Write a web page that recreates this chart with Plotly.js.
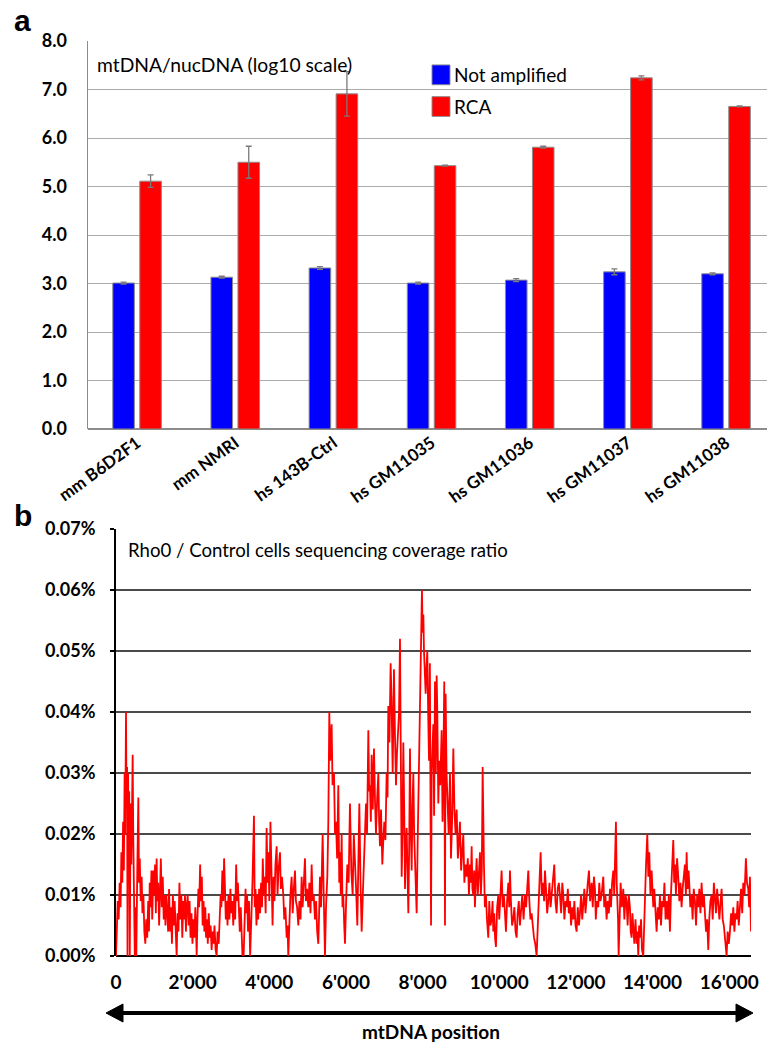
<!DOCTYPE html>
<html>
<head>
<meta charset="utf-8">
<script src="https://cdn.plot.ly/plotly-3.0.1.min.js"></script>
<style>
  html, body { margin: 0; padding: 0; background: #fff; }
  #chart { width: 767px; height: 1042px; }
</style>
</head>
<body>
<div id="chart"></div>
<script>
// Panel a: mtDNA copy number relative to nuclear DNA (log10), per cell line
const cellLines = ['mm B6D2F1', 'mm NMRI', 'hs 143B-Ctrl', 'hs GM11035', 'hs GM11036', 'hs GM11037', 'hs GM11038'];
const notAmplified = [3.01, 3.13, 3.32, 3.01, 3.07, 3.24, 3.20];
const notAmplifiedErr = [0.02, 0.02, 0.03, 0.02, 0.03, 0.06, 0.02];
const rca = [5.11, 5.50, 6.91, 5.43, 5.81, 7.24, 6.65];
const rcaErr = [0.13, 0.33, 0.46, 0.01, 0.02, 0.04, 0.01];

// Panel b: Rho0 / control sequencing coverage ratio (%) along the mtDNA, [position, ratio]
const coverageRatio = [
  [0,0.000],[20,0.004],[45,0.009],[70,0.006],[95,0.012],[120,0.008],[140,0.017],[165,0.012],[185,0.022],[205,0.014],
  [225,0.030],[240,0.020],[261,0.040],[275,0.025],[290,0.031],[300,0.000],[315,0.030],[330,0.018],[345,0.027],[360,0.000],
  [380,0.025],[400,0.015],[420,0.028],[435,0.033],[450,0.020],[470,0.012],[490,0.000],[510,0.008],[530,0.000],[555,0.014],
  [583,0.026],[600,0.012],[620,0.016],[645,0.009],[670,0.013],[690,0.007],[715,0.010],[740,0.004],[765,0.002],[790,0.006],
  [815,0.003],[840,0.009],[860,0.004],[880,0.012],[900,0.008],[925,0.014],[945,0.006],[974,0.014],[995,0.010],[1020,0.015],
  [1040,0.007],[1060,0.016],[1080,0.009],[1100,0.012],[1125,0.005],[1150,0.011],[1170,0.016],[1195,0.008],[1220,0.013],[1245,0.006],
  [1270,0.010],[1290,0.005],[1315,0.010],[1340,0.007],[1360,0.004],[1385,0.011],[1410,0.004],[1435,0.008],[1460,0.002],[1485,0.010],
  [1510,0.005],[1530,0.009],[1560,0.003],[1583,0.000],[1605,0.007],[1630,0.004],[1655,0.012],[1680,0.006],[1705,0.010],[1730,0.003],
  [1755,0.009],[1780,0.006],[1800,0.010],[1825,0.004],[1845,0.008],[1870,0.010],[1895,0.005],[1920,0.009],[1945,0.003],[1970,0.007],
  [1995,0.002],[2020,0.006],[2045,0.003],[2070,0.008],[2090,0.004],[2105,0.000],[2125,0.006],[2150,0.011],[2170,0.008],[2195,0.015],
  [2215,0.009],[2240,0.013],[2260,0.005],[2285,0.009],[2305,0.004],[2330,0.008],[2350,0.003],[2375,0.006],[2395,0.002],[2420,0.007],
  [2445,0.003],[2470,0.005],[2495,0.001],[2520,0.004],[2545,0.002],[2570,0.005],[2600,0.001],[2626,0.000],[2650,0.004],[2680,0.002],
  [2705,0.006],[2730,0.010],[2750,0.008],[2775,0.014],[2800,0.009],[2820,0.016],[2840,0.012],[2865,0.006],[2890,0.009],[2910,0.005],
  [2935,0.010],[2960,0.006],[2985,0.011],[3010,0.007],[3035,0.009],[3060,0.005],[3085,0.010],[3110,0.006],[3135,0.015],[3160,0.009],
  [3180,0.012],[3205,0.006],[3230,0.004],[3255,0.008],[3280,0.002],[3300,0.000],[3330,0.000],[3355,0.005],[3380,0.011],[3400,0.007],
  [3420,0.010],[3445,0.004],[3470,0.009],[3500,0.000],[3535,0.006],[3560,0.012],[3600,0.023],[3620,0.008],[3640,0.011],[3665,0.005],
  [3690,0.010],[3710,0.006],[3735,0.011],[3760,0.007],[3785,0.012],[3810,0.008],[3830,0.016],[3855,0.010],[3880,0.013],[3905,0.007],
  [3930,0.021],[3955,0.012],[3980,0.017],[4000,0.009],[4030,0.022],[4060,0.008],[4085,0.005],[4110,0.013],[4135,0.009],[4160,0.015],
  [4192,0.018],[4215,0.010],[4240,0.014],[4279,0.017],[4300,0.011],[4330,0.013],[4366,0.010],[4390,0.006],[4420,0.008],[4453,0.003],
  [4475,0.005],[4496,0.000],[4520,0.006],[4550,0.010],[4583,0.013],[4610,0.007],[4640,0.011],[4670,0.014],[4695,0.009],[4725,0.008],
  [4757,0.005],[4785,0.009],[4815,0.006],[4844,0.013],[4870,0.008],[4900,0.012],[4931,0.016],[4955,0.009],[4985,0.011],[5018,0.008],
  [5045,0.012],[5075,0.007],[5105,0.015],[5130,0.009],[5160,0.010],[5192,0.006],[5220,0.009],[5250,0.004],[5279,0.002],[5300,0.007],
  [5322,0.013],[5350,0.008],[5392,0.020],[5420,0.010],[5453,0.000],[5480,0.008],[5514,0.013],[5540,0.022],[5566,0.040],[5590,0.032],
  [5627,0.038],[5650,0.028],[5688,0.030],[5715,0.020],[5740,0.022],[5770,0.016],[5801,0.028],[5825,0.012],[5844,0.017],[5865,0.010],
  [5888,0.020],[5910,0.008],[5931,0.010],[5955,0.005],[5975,0.002],[6005,0.009],[6036,0.015],[6070,0.012],[6105,0.025],[6140,0.014],
  [6175,0.010],[6205,0.020],[6236,0.016],[6265,0.011],[6297,0.005],[6320,0.015],[6349,0.025],[6380,0.012],[6410,0.004],[6440,0.010],
  [6471,0.015],[6495,0.019],[6523,0.025],[6550,0.020],[6584,0.037],[6605,0.027],[6627,0.028],[6650,0.022],[6671,0.033],[6700,0.024],
  [6732,0.034],[6760,0.025],[6784,0.020],[6815,0.026],[6845,0.030],[6865,0.022],[6888,0.018],[6915,0.024],[6949,0.015],[6975,0.019],
  [7001,0.022],[7030,0.019],[7062,0.030],[7085,0.026],[7105,0.041],[7135,0.035],[7166,0.048],[7190,0.042],[7219,0.030],[7235,0.038],
  [7253,0.047],[7280,0.036],[7306,0.028],[7330,0.033],[7358,0.036],[7385,0.040],[7410,0.052],[7430,0.030],[7454,0.013],[7475,0.020],
  [7497,0.035],[7520,0.024],[7541,0.011],[7560,0.018],[7584,0.021],[7605,0.014],[7628,0.007],[7650,0.018],[7671,0.034],[7690,0.022],
  [7715,0.014],[7735,0.024],[7758,0.030],[7780,0.020],[7802,0.016],[7825,0.012],[7845,0.007],[7870,0.018],[7889,0.025],[7910,0.033],
  [7932,0.040],[7960,0.045],[7983,0.060],[8000,0.053],[8020,0.056],[8036,0.050],[8060,0.047],[8080,0.043],[8100,0.047],[8123,0.050],
  [8145,0.040],[8167,0.032],[8190,0.048],[8209,0.028],[8220,0.005],[8236,0.030],[8262,0.036],[8280,0.038],[8300,0.023],[8323,0.045],
  [8345,0.030],[8367,0.046],[8384,0.040],[8410,0.025],[8436,0.032],[8460,0.028],[8497,0.037],[8520,0.022],[8540,0.030],[8565,0.045],
  [8584,0.005],[8601,0.043],[8625,0.030],[8645,0.025],[8680,0.020],[8715,0.030],[8740,0.016],[8770,0.022],[8802,0.034],[8830,0.024],
  [8860,0.020],[8889,0.024],[8920,0.016],[8950,0.019],[8975,0.022],[9005,0.014],[9035,0.017],[9062,0.020],[9090,0.012],[9120,0.015],
  [9149,0.013],[9180,0.016],[9210,0.010],[9236,0.015],[9260,0.012],[9280,0.018],[9300,0.011],[9323,0.010],[9345,0.014],[9366,0.008],
  [9390,0.013],[9410,0.016],[9440,0.010],[9470,0.013],[9497,0.017],[9520,0.010],[9545,0.014],[9567,0.031],[9580,0.020],[9601,0.015],
  [9625,0.008],[9653,0.010],[9680,0.006],[9714,0.003],[9740,0.009],[9770,0.005],[9801,0.006],[9825,0.009],[9845,0.004],[9870,0.007],
  [9890,0.003],[9914,0.0015],[9945,0.008],[9975,0.010],[10000,0.006],[10030,0.011],[10062,0.014],[10090,0.008],[10120,0.010],[10149,0.007],
  [10175,0.004],[10205,0.009],[10236,0.012],[10260,0.008],[10279,0.014],[10305,0.009],[10335,0.005],[10366,0.006],[10395,0.008],[10425,0.004],
  [10453,0.003],[10480,0.007],[10510,0.009],[10540,0.005],[10570,0.007],[10600,0.010],[10635,0.006],[10671,0.010],[10700,0.008],[10730,0.012],
  [10758,0.014],[10785,0.009],[10815,0.006],[10845,0.007],[10875,0.005],[10906,0.003],[10940,0.002],[10975,0.000],[11000,0.004],[11019,0.008],
  [11050,0.012],[11080,0.017],[11110,0.010],[11149,0.012],[11170,0.009],[11193,0.014],[11220,0.011],[11250,0.007],[11280,0.009],[11310,0.012],
  [11340,0.008],[11367,0.010],[11400,0.013],[11436,0.015],[11465,0.009],[11497,0.007],[11525,0.011],[11555,0.012],[11584,0.010],[11615,0.007],
  [11645,0.012],[11671,0.010],[11700,0.006],[11730,0.009],[11758,0.008],[11790,0.011],[11815,0.007],[11845,0.009],[11875,0.005],[11905,0.008],
  [11932,0.006],[11960,0.009],[11990,0.005],[12019,0.004],[12050,0.008],[12080,0.005],[12106,0.007],[12135,0.010],[12165,0.006],[12193,0.008],
  [12220,0.011],[12250,0.007],[12280,0.010],[12310,0.012],[12341,0.014],[12370,0.009],[12410,0.012],[12440,0.008],[12470,0.013],[12497,0.011],
  [12520,0.006],[12545,0.009],[12584,0.008],[12610,0.012],[12640,0.009],[12670,0.010],[12715,0.013],[12740,0.008],[12770,0.010],[12802,0.006],
  [12830,0.009],[12860,0.007],[12889,0.011],[12915,0.008],[12945,0.012],[12976,0.014],[13000,0.010],[13020,0.016],[13045,0.022],[13065,0.012],
  [13080,0.010],[13100,0.006],[13115,0.000],[13140,0.008],[13167,0.012],[13200,0.008],[13236,0.011],[13265,0.006],[13295,0.010],[13323,0.009],
  [13350,0.005],[13380,0.010],[13410,0.008],[13430,0.004],[13454,0.003],[13475,0.007],[13497,0.005],[13525,0.002],[13555,0.006],[13584,0.002],
  [13605,0.004],[13628,0.000],[13650,0.005],[13671,0.003],[13700,0.006],[13725,0.001],[13758,0.000],[13780,0.006],[13802,0.012],[13830,0.015],
  [13863,0.020],[13890,0.013],[13915,0.017],[13945,0.010],[13976,0.014],[14000,0.009],[14019,0.008],[14045,0.011],[14075,0.006],[14106,0.004],
  [14135,0.008],[14165,0.006],[14193,0.010],[14220,0.005],[14250,0.009],[14280,0.008],[14310,0.012],[14340,0.006],[14367,0.009],[14395,0.006],
  [14425,0.010],[14454,0.004],[14480,0.010],[14510,0.014],[14541,0.019],[14565,0.012],[14590,0.015],[14610,0.010],[14640,0.016],[14671,0.013],
  [14700,0.009],[14730,0.012],[14758,0.008],[14785,0.011],[14815,0.013],[14845,0.015],[14870,0.010],[14889,0.017],[14915,0.011],[14940,0.014],
  [14958,0.012],[14985,0.008],[15019,0.010],[15045,0.006],[15075,0.011],[15106,0.009],[15135,0.005],[15165,0.010],[15193,0.008],[15220,0.011],
  [15250,0.007],[15280,0.012],[15310,0.008],[15340,0.010],[15367,0.007],[15395,0.004],[15425,0.006],[15454,0.001],[15480,0.006],[15510,0.009],
  [15541,0.010],[15570,0.006],[15600,0.012],[15628,0.010],[15655,0.007],[15685,0.011],[15715,0.008],[15745,0.006],[15775,0.009],[15802,0.011],
  [15830,0.006],[15860,0.005],[15889,0.003],[15910,0.002],[15932,0.000],[15960,0.004],[15990,0.002],[16019,0.004],[16050,0.007],[16080,0.005],
  [16106,0.008],[16135,0.004],[16165,0.007],[16193,0.006],[16220,0.009],[16250,0.005],[16280,0.008],[16310,0.011],[16340,0.007],[16367,0.012],
  [16400,0.010],[16436,0.016],[16465,0.012],[16497,0.011],[16520,0.008],[16541,0.013],[16569,0.004]
];
const positionTicks = [0, 2000, 4000, 6000, 8000, 10000, 12000, 14000, 16000];
const mtGenomeLength = 16569;

const W = 767, H = 1042;
const px = v => v / W;          // pixel -> paper x
const py = v => 1 - v / H;      // pixel -> paper y

const FONT = 'Lato, "Open Sans", sans-serif';
const barLine = { color: '#8c8c8c', width: 1 };
const errStyle = { type: 'data', color: '#7a7a7a', thickness: 1.3, width: 3 };

const traces = [
  {
    type: 'bar', name: 'Not amplified', legendgroup: 'na',
    x: cellLines, y: notAmplified,
    error_y: Object.assign({ array: notAmplifiedErr }, errStyle),
    marker: { color: '#0000ff', line: barLine },
    xaxis: 'x', yaxis: 'y'
  },
  {
    type: 'bar', name: 'RCA', legendgroup: 'rca',
    x: cellLines, y: rca,
    error_y: Object.assign({ array: rcaErr }, errStyle),
    marker: { color: '#ff0000', line: barLine },
    xaxis: 'x', yaxis: 'y'
  },
  {
    type: 'scatter', mode: 'lines', showlegend: false,
    x: coverageRatio.map(d => d[0]), y: coverageRatio.map(d => d[1]),
    line: { color: '#ff0000', width: 1.8 },
    xaxis: 'x2', yaxis: 'y2'
  }
];

const layout = {
  width: W, height: H,
  margin: { l: 0, r: 0, t: 0, b: 0 },
  paper_bgcolor: '#fff', plot_bgcolor: '#fff',
  font: { family: FONT, color: '#000' },
  separators: ".'",
  barmode: 'group', bargap: 0.45, bargroupgap: 0.2,
  showlegend: true,
  legend: {
    x: px(414), y: py(56), xanchor: 'left', yanchor: 'top',
    font: { family: FONT, size: 19, color: '#000' },
    bgcolor: 'rgba(0,0,0,0)', tracegroupgap: 4, itemclick: false
  },
  xaxis: {
    domain: [px(88), 1], range: [-0.5, 6.417],
    showgrid: false, showline: false, zeroline: false, ticks: '',
    tickangle: -36,
    tickfont: { family: FONT, size: 17, weight: 'bold', color: '#000' }
  },
  yaxis: {
    domain: [py(429), py(41)], range: [0, 8], dtick: 1, tickformat: '.1f',
    showgrid: true, gridcolor: '#ababab', gridwidth: 1,
    zeroline: true, zerolinecolor: '#8c8c8c', zerolinewidth: 1.5,
    showline: true, linecolor: '#8c8c8c', linewidth: 1.5,
    ticks: '', ticklabelstandoff: 16,
    tickfont: { family: FONT, size: 18, weight: 'bold', color: '#000' }
  },
  xaxis2: {
    anchor: 'y2',
    domain: [px(116), px(751)], range: [0, mtGenomeLength],
    tickvals: positionTicks, tickformat: ',d',
    showgrid: false, showline: false, zeroline: false, ticks: '',
    ticklabelstandoff: 13,
    tickfont: { family: FONT, size: 19, weight: 'bold', color: '#000' }
  },
  yaxis2: {
    anchor: 'x2',
    domain: [py(956), py(529)], range: [0, 0.07], dtick: 0.01,
    tickformat: '.2f', ticksuffix: '%',
    showgrid: true, gridcolor: '#4a4a4a', gridwidth: 1.5,
    zeroline: true, zerolinecolor: '#000', zerolinewidth: 2.5,
    showline: true, linecolor: '#000', linewidth: 2,
    ticks: 'outside', ticklen: 4, tickcolor: '#000', tickwidth: 1.5,
    ticklabelstandoff: 11,
    tickfont: { family: FONT, size: 18, weight: 'bold', color: '#000' }
  },
  annotations: [
    { text: 'a', xref: 'paper', yref: 'paper', x: px(12), y: py(2), xanchor: 'left', yanchor: 'top',
      showarrow: false, font: { family: 'Liberation Sans, Arial, sans-serif', size: 30, weight: 'bold' } },
    { text: 'b', xref: 'paper', yref: 'paper', x: px(12), y: py(497), xanchor: 'left', yanchor: 'top',
      showarrow: false, font: { family: 'Liberation Sans, Arial, sans-serif', size: 30, weight: 'bold' } },
    { text: 'mtDNA/nucDNA (log10 scale)', xref: 'paper', yref: 'paper', x: px(95), y: py(51), xanchor: 'left', yanchor: 'top',
      showarrow: false, font: { family: FONT, size: 19.3 } },
    { text: 'Rho0 / Control cells sequencing coverage ratio', xref: 'paper', yref: 'paper', x: px(126), y: py(537), xanchor: 'left', yanchor: 'top',
      showarrow: false, font: { family: FONT, size: 18.6 } },
    { text: 'mtDNA position', xref: 'paper', yref: 'paper', x: px(431), y: py(1031), xanchor: 'center', yanchor: 'middle',
      showarrow: false, font: { family: FONT, size: 19, weight: 'bold' } }
  ],
  shapes: [
    // double-headed position arrow under panel b
    { type: 'line', xref: 'paper', yref: 'paper', x0: px(118), x1: px(741), y0: py(1013), y1: py(1013),
      line: { color: '#000', width: 4 } },
    { type: 'path', xref: 'paper', yref: 'paper',
      path: `M ${px(106)} ${py(1013)} L ${px(123)} ${py(1004)} L ${px(123)} ${py(1022)} Z`,
      fillcolor: '#000', line: { color: '#000', width: 1 } },
    { type: 'path', xref: 'paper', yref: 'paper',
      path: `M ${px(753)} ${py(1013)} L ${px(736)} ${py(1004)} L ${px(736)} ${py(1022)} Z`,
      fillcolor: '#000', line: { color: '#000', width: 1 } }
  ]
};

Plotly.newPlot('chart', traces, layout, { staticPlot: true, displayModeBar: false }).then(gd => {
  // larger colour swatches in the legend, set a little closer to their labels
  gd.querySelectorAll('.legend .legendpoints path').forEach(p => {
    const t = p.getAttribute('transform') || '';
    p.setAttribute('transform', (t + ' translate(7,0) scale(1.5,1.65)').trim());
    p.style.strokeWidth = '0.6px';
  });
});
</script>
</body>
</html>
